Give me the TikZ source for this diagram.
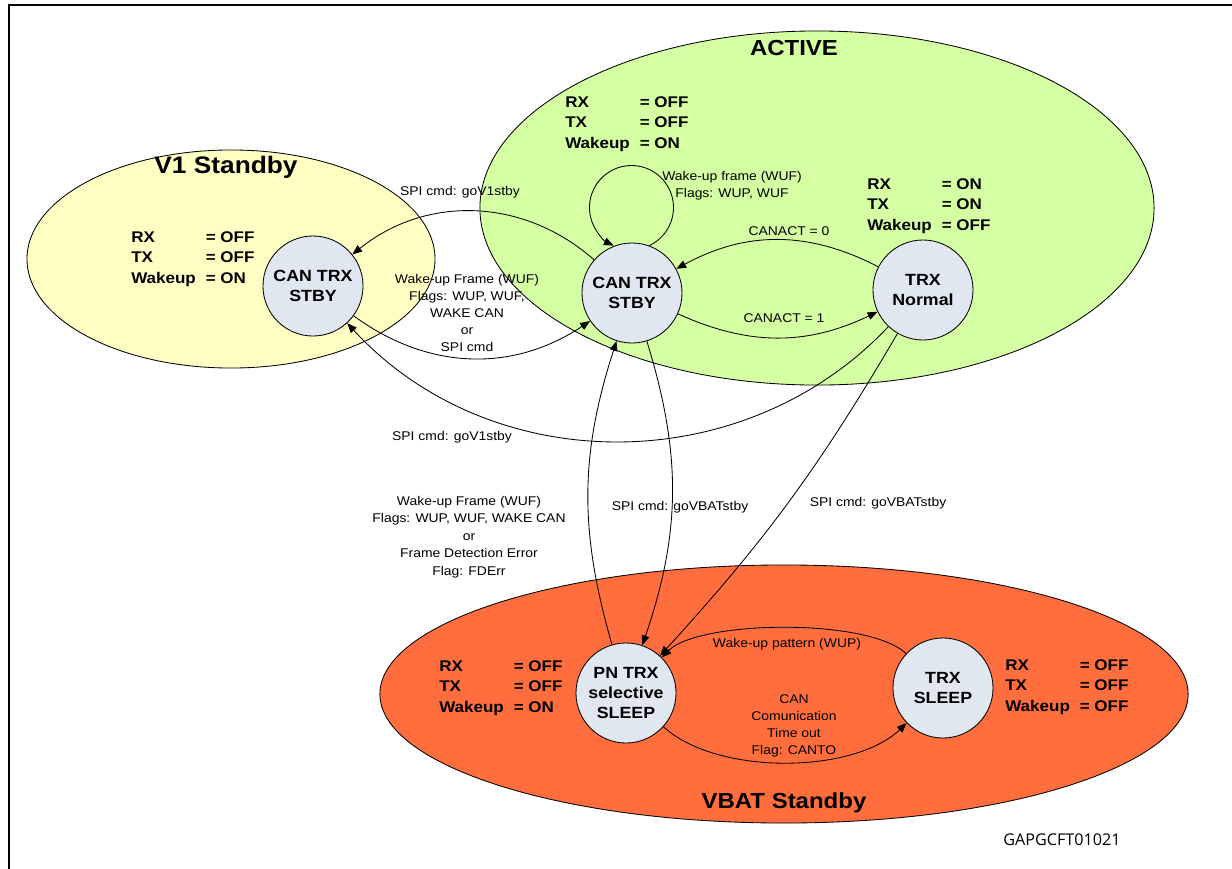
\documentclass[tikz,border=0pt]{standalone}
\usepackage{fontspec}
\setmainfont{Liberation Sans}[FakeStretch=1.1]
\newfontfamily\idfont{Open Sans}
\usetikzlibrary{arrows.meta,shapes.geometric,positioning}
\definecolor{v1yellow}{HTML}{FFFFC4}
\definecolor{activegreen}{HTML}{D4FFA2}
\definecolor{vbatorange}{HTML}{FF6E3C}
\definecolor{trxgrey}{HTML}{E1E7F1}
\newcommand{\flagrow}[2]{\makebox[53pt][l]{#1}#2}
\tikzset{zonestyle/.style = {ellipse, draw = black, line width = 0.6pt, inner sep = 0pt},
	trxstyle/.style = {circle, draw = black, fill = trxgrey, line width = 0.6pt, minimum size = 2.5cm, inner sep = 0pt, align = center, font = \bfseries\fontsize{11.5}{14.5}\selectfont},
	flagstyle/.style = {anchor = west, inner sep = 0pt, align = left, font = \bfseries\fontsize{11}{14.5}\selectfont},
	titlestyle/.style = {inner sep = 0pt, font = \bfseries\fontsize{15.5}{18}\selectfont},
	cmdstyle/.style = {inner sep = 0pt, align = center, font = \fontsize{9}{12}\selectfont},
	trans/.style = {-{Triangle[length = 7pt, width = 5.5pt]}, line width = 0.6pt}}

\begin{document}
\begin{tikzpicture}[x = 0.025cm, y = -0.025cm]

 \useasboundingbox (0,0) rectangle (1232,869);
 \draw [line width = 1.8pt] (9,869) -- (9,5) -- (1232,5);

 \node (v1zone) at (231,259) [zonestyle, fill = v1yellow, minimum width = 10.2cm, minimum height = 5.45cm] {};
 \node (activezone) at (817,208) [zonestyle, fill = activegreen, minimum width = 16.85cm, minimum height = 8.85cm] {};
 \node (vbatzone) at (784,694) [zonestyle, fill = vbatorange, minimum width = 20.2cm, minimum height = 6.45cm] {};

 \node (v1title) at (226,167) [titlestyle, font = \bfseries\fontsize{17}{20}\selectfont] {V1 Standby};
 \node (activetitle) at (794,48) [titlestyle] {ACTIVE};
 \node (vbattitle) at (784,803) [titlestyle] {VBAT Standby};

 \node (v1stby) at (313,286) [trxstyle] {CAN TRX\\STBY};
 \node (astby) at (632,293) [trxstyle] {CAN TRX\\STBY};
 \node (trxnorm) at (923,290) [trxstyle] {TRX\\Normal};
 \node (pnsleep) at (626,693) [trxstyle] {PN TRX\\selective\\SLEEP};
 \node (trxsleep) at (943,688) [trxstyle] {TRX\\SLEEP};

 \node (v1flags) at (131,259) [flagstyle] {\flagrow{RX}{= OFF}\\\flagrow{TX}{= OFF}\\\flagrow{Wakeup}{= ON}};
 \node (aflags) at (565,124) [flagstyle] {\flagrow{RX}{= OFF}\\\flagrow{TX}{= OFF}\\\flagrow{Wakeup}{= ON}};
 \node (nflags) at (867,206) [flagstyle] {\flagrow{RX}{= ON}\\\flagrow{TX}{= ON}\\\flagrow{Wakeup}{= OFF}};
 \node (pnflags) at (439,688) [flagstyle] {\flagrow{RX}{= OFF}\\\flagrow{TX}{= OFF}\\\flagrow{Wakeup}{= ON}};
 \node (sflags) at (1005,687) [flagstyle] {\flagrow{RX}{= OFF}\\\flagrow{TX}{= OFF}\\\flagrow{Wakeup}{= OFF}};

 \draw [trans] (astby.70) arc [start angle = -65, end angle = 245, radius = 1.05cm];
 \draw [trans] (astby) to [bend right = 40] (v1stby);
 \draw [trans] (v1stby) to [bend right = 35] (astby);
 \draw [trans] (trxnorm) to [bend left = 47] (v1stby);
 \draw [trans] (trxnorm) to [bend right = 28] (astby);
 \draw [trans] (astby) to [bend right = 25] (trxnorm);
 \draw [trans] (pnsleep) to [bend left = 17] (astby);
 \draw [trans] (astby) to [bend left = 18] (pnsleep);
 \draw [trans] (trxnorm) to [bend left = 6] (pnsleep);
 \draw [trans] (trxsleep) to [bend right = 44, looseness = 0.55] (pnsleep);
 \draw [trans] (pnsleep) to [bend right = 43, looseness = 0.77] (trxsleep);

 \node (wufloop) at (732,186) [cmdstyle] {Wake-up frame (WUF)\\Flags: WUP, WUF};
 \node (gov1up) at (460,192) [cmdstyle] {SPI cmd: goV1stby};
 \node (wufv1) at (467,313) [cmdstyle] {Wake-up Frame (WUF)\\Flags: WUP, WUF,\\WAKE CAN\\or\\SPI cmd};
 \node (gov1low) at (452,437) [cmdstyle] {SPI cmd: goV1stby};
 \node (canact0) at (789,231) [cmdstyle] {CANACT = 0};
 \node (canact1) at (784,318) [cmdstyle] {CANACT = 1};
 \node (wufpn) at (469,537) [cmdstyle, font = \fontsize{9}{12.4}\selectfont] {Wake-up Frame (WUF)\\Flags: WUP, WUF, WAKE CAN\\or\\Frame Detection Error\\Flag: FDErr};
 \node (govbatmid) at (680,507) [cmdstyle] {SPI cmd: goVBATstby};
 \node (govbatright) at (878,503) [cmdstyle] {SPI cmd: goVBATstby};
 \node (wuppattern) at (787,644) [cmdstyle] {Wake-up pattern (WUP)};
 \node (canto) at (794,726) [cmdstyle] {CAN\\Comunication\\Time out\\Flag: CANTO};

 \node (figid) at (1062,840) [inner sep = 0pt, font = \idfont\fontsize{11.5}{14}\selectfont] {GAPGCFT01021};

\end{tikzpicture}
\end{document}
